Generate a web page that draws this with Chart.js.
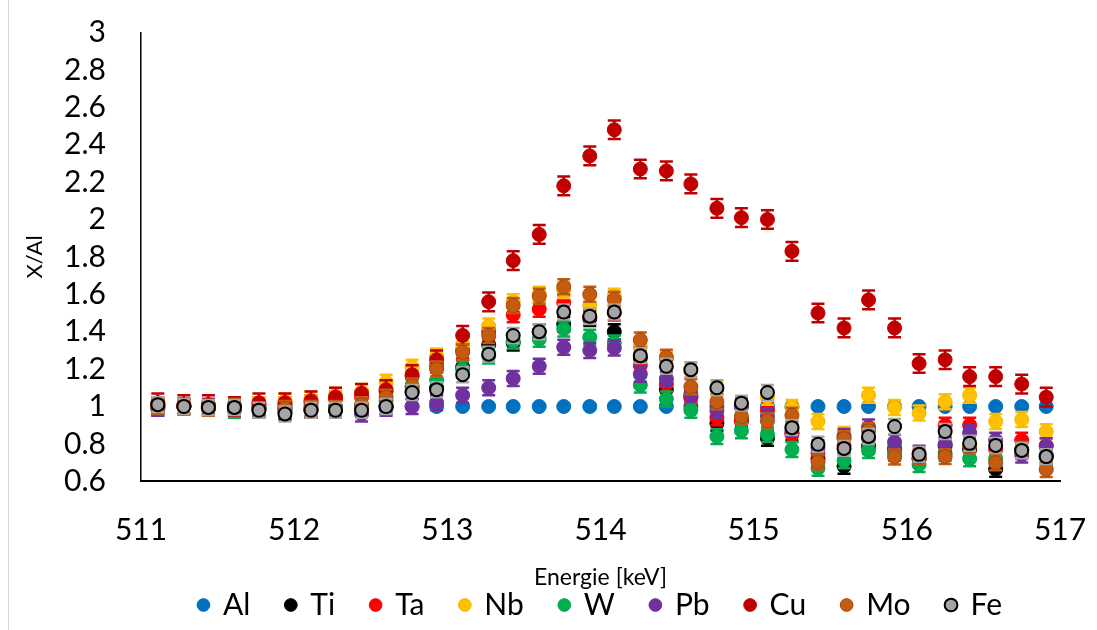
<!DOCTYPE html>
<html>
<head>
<meta charset="utf-8">
<title>X/Al</title>
<script src="https://cdn.jsdelivr.net/npm/chart.js@4.4.1/dist/chart.umd.min.js"></script>
<style>
  html, body { margin: 0; padding: 0; background: #fff; }
  #wrap { position: relative; width: 1097px; height: 630px; }
  #wrap::before { content: ""; position: absolute; left: 8px; top: 0; bottom: 0; border-left: 1px solid #d9d9d9; }
  canvas { display: block; }
</style>
</head>
<body>
<div id="wrap"><canvas id="ratioChart" width="1097" height="630"></canvas></div>
<script>
// ==========================================
// DATA: measured X/Al ratios per energy bin
// ==========================================
const energies = [511.11, 511.28, 511.44, 511.61, 511.77, 511.94, 512.11, 512.27, 512.44, 512.60,
                  512.77, 512.93, 513.10, 513.27, 513.43, 513.60, 513.76, 513.93, 514.09, 514.26,
                  514.43, 514.59, 514.76, 514.92, 515.09, 515.25, 515.42, 515.59, 515.75, 515.92,
                  516.08, 516.25, 516.41, 516.58, 516.75, 516.91];

const alValues = [1, 1, 1, 1, 1, 1, 1, 1, 1, 1,
                  1, 1, 1, 1, 1, 1, 1, 1, 1, 1,
                  1, 1, 1, 1, 1, 1, 1, 1, 1, 1,
                  1, 1, 1, 1, 1, 1];
const tiValues = [1.00, 1.00, 0.99, 0.99, 0.99, 0.97, 0.98, 0.98, 0.99, 1.00,
                  1.08, 1.10, 1.21, 1.33, 1.34, 1.40, 1.44, 1.47, 1.40, 1.26,
                  1.09, 1.05, 0.91, 0.93, 0.83, 0.86, 0.72, 0.68, 0.79, 0.77,
                  0.72, 0.79, 0.77, 0.665, 0.77, 0.73];
const taValues = [1.01, 1.00, 1.00, 1.00, 1.01, 1.01, 1.02, 1.04, 1.05, 1.08,
                  1.16, 1.22, 1.30, 1.40, 1.49, 1.52, 1.555, 1.48, 1.50, 1.22,
                  1.12, 1.05, 0.94, 0.92, 0.98, 0.85, 0.75, 0.79, 0.83, 0.78,
                  0.72, 0.90, 0.90, 0.77, 0.82, 0.79];
const nbValues = [1.00, 1.00, 1.00, 1.01, 1.01, 1.03, 1.04, 1.06, 1.08, 1.13,
                  1.21, 1.27, 1.33, 1.43, 1.56, 1.60, 1.62, 1.54, 1.59, 1.32,
                  1.25, 1.19, 1.09, 1.01, 1.05, 0.995, 0.92, 0.85, 1.06, 0.995,
                  0.965, 1.025, 1.06, 0.92, 0.93, 0.865];
const wValues  = [0.99, 1.00, 0.99, 0.98, 0.99, 0.98, 0.99, 0.99, 1.00, 1.03,
                  1.10, 1.14, 1.20, 1.27, 1.35, 1.36, 1.415, 1.37, 1.34, 1.115,
                  1.04, 0.98, 0.84, 0.87, 0.85, 0.77, 0.67, 0.71, 0.765, 0.75,
                  0.69, 0.75, 0.72, 0.72, 0.77, 0.74];
const pbValues = [0.99, 1.00, 1.00, 0.99, 0.99, 0.99, 0.98, 0.98, 0.96, 0.99,
                  1.00, 1.02, 1.06, 1.10, 1.15, 1.215, 1.317, 1.30, 1.313, 1.173,
                  1.147, 1.066, 0.977, 1.00, 0.95, 0.88, 0.78, 0.84, 0.89, 0.81,
                  0.75, 0.80, 0.86, 0.82, 0.74, 0.79];
const cuValues = [1.02, 1.01, 1.01, 1.00, 1.02, 1.02, 1.03, 1.05, 1.07, 1.09,
                  1.17, 1.25, 1.38, 1.56, 1.78, 1.92, 2.18, 2.34, 2.48, 2.27,
                  2.26, 2.19, 2.06, 2.01, 2.00, 1.83, 1.50, 1.42, 1.57, 1.42,
                  1.23, 1.25, 1.16, 1.16, 1.12, 1.05];
const moValues = [1.00, 1.00, 0.99, 1.00, 0.98, 0.99, 0.99, 0.99, 1.01, 1.05,
                  1.11, 1.20, 1.29, 1.38, 1.54, 1.59, 1.64, 1.60, 1.573, 1.356,
                  1.263, 1.106, 1.025, 0.946, 0.923, 0.953, 0.703, 0.828, 0.87, 0.73,
                  0.73, 0.732, 0.79, 0.699, 0.76, 0.663];
const feValues = [1.01, 1.00, 0.995, 0.995, 0.98, 0.96, 0.98, 0.98, 0.98, 1.00,
                  1.075, 1.09, 1.17, 1.28, 1.38, 1.40, 1.505, 1.483, 1.505, 1.272,
                  1.215, 1.197, 1.10, 1.018, 1.075, 0.887, 0.798, 0.776, 0.84, 0.893,
                  0.744, 0.866, 0.803, 0.792, 0.765, 0.732];

const elementNames = ['Al', 'Ti', 'Ta', 'Nb', 'W', 'Pb', 'Cu', 'Mo', 'Fe'];
const seriesValues = [alValues, tiValues, taValues, nbValues, wValues, pbValues, cuValues, moValues, feValues];
// +/- uncertainty of each ratio (Al/Al has none)
const errorSizes = [0, 0.04, 0.04, 0.04, 0.04, 0.04, 0.05, 0.04, 0.04];

const xTicks = [511, 512, 513, 514, 515, 516, 517];
const yTicks = [0.6, 0.8, 1, 1.2, 1.4, 1.6, 1.8, 2, 2.2, 2.4, 2.6, 2.8, 3];

// ==========================================
// STYLE
// ==========================================
const elementColors = ['#0070C0', '#000000', '#FF0000', '#FFC000', '#00B050', '#7030A0', '#C00000', '#C55A11', '#A5A5A5'];
const edgeColors    = ['#0070C0', '#000000', '#FF0000', '#F2B600', '#00A84A', '#7030A0', '#C00000', '#A24A0F', '#000000'];

// Vertical error bars with caps, painted just before each series so
// later series sit on top of them
const errorBarPlugin = {
    id: 'errorBars',
    beforeDatasetDraw(chart, args) {
        const ds = chart.data.datasets[args.index];
        if (!ds.errorBar) return;
        const { ctx, chartArea, scales: { x, y } } = chart;
        ctx.save();
        ctx.beginPath();
        ctx.rect(chartArea.left, chartArea.top, chartArea.right - chartArea.left, chartArea.bottom - chartArea.top);
        ctx.clip();
        ctx.strokeStyle = ds.errorColor;
        ctx.lineWidth = 2.5;
        const cap = 6.5;
        ds.data.forEach(function (p) {
            const px = x.getPixelForValue(p.x);
            const top = y.getPixelForValue(p.y + ds.errorBar);
            const bottom = y.getPixelForValue(p.y - ds.errorBar);
            ctx.beginPath();
            ctx.moveTo(px, top);
            ctx.lineTo(px, bottom);
            ctx.moveTo(px - cap, top);
            ctx.lineTo(px + cap, top);
            ctx.moveTo(px - cap, bottom);
            ctx.lineTo(px + cap, bottom);
            ctx.stroke();
        });
        ctx.restore();
    }
};

const datasets = elementNames.map(function (name, i) {
    const isFe = name === 'Fe';
    return {
        label: name,
        data: energies.map(function (e, k) { return { x: e, y: seriesValues[i][k] }; }),
        errorBar: errorSizes[i],
        errorColor: elementColors[i],
        // first series at the bottom of the stack, Fe on top
        order: elementNames.length - 1 - i,
        pointStyle: 'circle',
        pointRadius: isFe ? 6.5 : 7,
        pointHoverRadius: isFe ? 6.5 : 7,
        pointBackgroundColor: elementColors[i],
        pointBorderColor: edgeColors[i],
        pointBorderWidth: isFe ? 2 : 1,
        backgroundColor: elementColors[i],
        borderColor: edgeColors[i],
        showLine: false
    };
});

Chart.defaults.font.family = 'Lato, "Open Sans", sans-serif';
Chart.defaults.color = '#000';

// invisible tick marks keep the labels away from the axis lines
// without adding to the layout padding
const hiddenTicks = { display: true, drawOnChartArea: false, drawTicks: true, tickColor: 'rgba(0,0,0,0)' };

new Chart(document.getElementById('ratioChart'), {
    type: 'scatter',
    data: { datasets: datasets },
    plugins: [errorBarPlugin],
    options: {
        responsive: false,
        animation: false,
        layout: { padding: { top: 32.5, right: 37, bottom: 0, left: 0 } },
        plugins: {
            tooltip: { enabled: false },
            legend: {
                position: 'bottom',
                align: 'center',
                fullSize: false,
                reverse: true,
                maxHeight: 79,
                labels: {
                    usePointStyle: true,
                    boxWidth: 9,
                    boxHeight: 9,
                    padding: 36,
                    color: '#000',
                    font: { size: 30 }
                }
            }
        },
        scales: {
            x: {
                type: 'linear',
                min: 511,
                max: 517,
                afterBuildTicks: function (scale) {
                    scale.ticks = xTicks.map(function (v) { return { value: v }; });
                },
                afterFit: function (scale) { scale.height = 72.7; },
                grid: Object.assign({ tickLength: 31 }, hiddenTicks),
                border: { display: true, color: '#000', width: 2 },
                ticks: {
                    padding: 0,
                    maxRotation: 0,
                    autoSkip: false,
                    font: { size: 30 },
                    callback: function (v) { return String(v); }
                },
                title: {
                    display: true,
                    text: 'Energie [keV]',
                    font: { size: 23 },
                    padding: { top: 0, bottom: -37 }
                }
            },
            y: {
                min: 0.6,
                max: 3,
                afterBuildTicks: function (scale) {
                    scale.ticks = yTicks.map(function (v) { return { value: v }; });
                },
                afterFit: function (scale) { scale.width = 141; },
                grid: Object.assign({ tickLength: 35 }, hiddenTicks),
                border: { display: true, color: '#000', width: 1.5 },
                ticks: {
                    padding: 0,
                    autoSkip: false,
                    font: { size: 30 },
                    callback: function (v) { return String(v); }
                },
                title: {
                    display: true,
                    text: 'X/Al',
                    font: { size: 22 },
                    padding: { top: 22, bottom: 0 }
                }
            }
        }
    }
});
</script>
</body>
</html>
